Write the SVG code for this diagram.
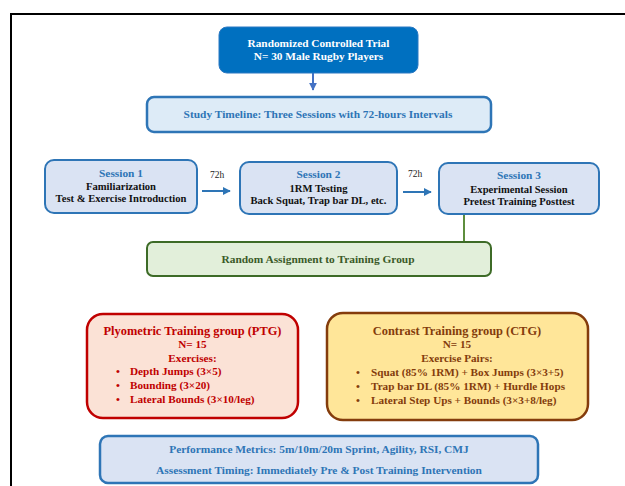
<svg xmlns="http://www.w3.org/2000/svg" width="625" height="486" viewBox="0 0 625 486">
<defs>
<style>
text{font-family:"Liberation Serif","Times New Roman",serif;font-weight:bold;text-anchor:middle}
.w{fill:#ffffff;font-size:11.3px}
.blue{fill:#2E75B6;font-size:11.4px}
.blk{fill:#111111;font-size:10.6px}
.lbl{fill:#222222;font-size:9.5px;font-weight:normal}
.grn{fill:#3A5A28;font-size:11.4px}
.red{fill:#C00000;font-size:11.2px}
.brn{fill:#843C0C;font-size:11.2px}
.ls{text-anchor:start}
.sess{fill:#DAE3F3;stroke:#2E75B6;stroke-width:2}
.conn{stroke:#2E75B6;stroke-width:2;fill:none}
</style>
<marker id="ah" viewBox="0 0 10 10" refX="9" refY="5" markerWidth="4" markerHeight="4" orient="auto" markerUnits="strokeWidth">
<path d="M0,0 L10,5 L0,10 z" fill="#2E75B6"/>
</marker>
<marker id="ah2" viewBox="0 0 10 10" refX="9" refY="5" markerWidth="4" markerHeight="4" orient="auto" markerUnits="strokeWidth">
<path d="M0,0 L10,5 L0,10 z" fill="#4472C4"/>
</marker>
</defs>
<rect width="625" height="486" fill="#ffffff"/>
<path d="M11,490 L11,14 L630,14" fill="none" stroke="#000000" stroke-width="2"/>

<g id="connectors">
<line x1="313" y1="73" x2="313" y2="90" stroke="#4472C4" stroke-width="2" marker-end="url(#ah2)"/>
<line class="conn" x1="202" y1="191" x2="230" y2="191" marker-end="url(#ah)"/>
<line class="conn" x1="403" y1="192" x2="431" y2="192" marker-end="url(#ah)"/>
<line x1="464" y1="214" x2="464" y2="242" stroke="#5E8E3E" stroke-width="2"/>
<text class="lbl" x="217" y="178">72h</text>
<text class="lbl" x="415" y="177">72h</text>
</g>

<g id="rct">
<rect x="219" y="27" width="199" height="46" rx="8" fill="#0070C0" stroke="#2A78C2" stroke-width="1"/>
<text class="w" x="318.5" y="47">Randomized Controlled Trial</text>
<text class="w" x="318.5" y="60">N= 30 Male Rugby Players</text>
</g>

<g id="timeline">
<rect x="147" y="97" width="344" height="35" rx="7" fill="#DDEBF7" stroke="#2E75B6" stroke-width="2.5"/>
<text class="blue" x="318" y="118">Study Timeline: Three Sessions with 72-hours Intervals</text>
</g>

<g id="session1">
<rect class="sess" x="45" y="160" width="152" height="53" rx="9"/>
<text class="blue" x="121" y="177">Session 1</text>
<text class="blk" x="121" y="190">Familiarization</text>
<text class="blk" x="121" y="202">Test &amp; Exercise Introduction</text>
</g>

<g id="session2">
<rect class="sess" x="240" y="162" width="157" height="52" rx="9"/>
<text class="blue" x="318.5" y="178">Session 2</text>
<text class="blk" x="318.5" y="192">1RM Testing</text>
<text class="blk" x="318.5" y="204">Back Squat, Trap bar DL, etc.</text>
</g>

<g id="session3">
<rect class="sess" x="439" y="163" width="160" height="51" rx="9"/>
<text class="blue" x="519" y="179">Session 3</text>
<text class="blk" x="519" y="193">Experimental Session</text>
<text class="blk" x="519" y="205">Pretest Training Posttest</text>
</g>

<g id="random">
<rect x="147" y="242" width="344" height="34" rx="6" fill="#E2EFDA" stroke="#3D6B27" stroke-width="2"/>
<text class="grn" x="318" y="263">Random Assignment to Training Group</text>
</g>

<g id="ptg">
<rect x="87" y="314" width="211" height="104" rx="16" fill="#FBE2D6" stroke="#C00000" stroke-width="2.5"/>
<text class="red" x="192.5" y="335" style="font-size:12.4px">Plyometric Training group (PTG)</text>
<text class="red" x="192.5" y="348">N= 15</text>
<text class="red" x="192.5" y="362">Exercises:</text>
<text class="red" x="118" y="375">•</text>
<text class="red" x="118" y="389">•</text>
<text class="red" x="118" y="403">•</text>
<text class="red ls" x="130" y="375">Depth Jumps (3×5)</text>
<text class="red ls" x="130" y="389">Bounding (3×20)</text>
<text class="red ls" x="130" y="403">Lateral Bounds (3×10/leg)</text>
</g>

<g id="ctg">
<rect x="327" y="313" width="261" height="107" rx="16" fill="#FFE699" stroke="#843C0C" stroke-width="2.5"/>
<text class="brn" x="457" y="335" style="font-size:12.4px">Contrast Training group (CTG)</text>
<text class="brn" x="457" y="348">N= 15</text>
<text class="brn" x="457" y="362">Exercise Pairs:</text>
<text class="brn" x="358" y="376">•</text>
<text class="brn" x="358" y="390">•</text>
<text class="brn" x="358" y="404">•</text>
<text class="brn ls" x="371" y="376">Squat (85% 1RM) + Box Jumps (3×3+5)</text>
<text class="brn ls" x="371" y="390">Trap bar DL (85% 1RM) + Hurdle Hops</text>
<text class="brn ls" x="371" y="404">Lateral Step Ups + Bounds (3×3+8/leg)</text>
</g>

<g id="metrics">
<rect x="100" y="436" width="438" height="47" rx="8" fill="#DAE3F3" stroke="#2E75B6" stroke-width="2.5"/>
<text class="blue" x="319" y="453">Performance Metrics: 5m/10m/20m Sprint, Agility, RSI, CMJ</text>
<text class="blue" x="319" y="474">Assessment Timing: Immediately Pre &amp; Post Training Intervention</text>
</g>
</svg>
